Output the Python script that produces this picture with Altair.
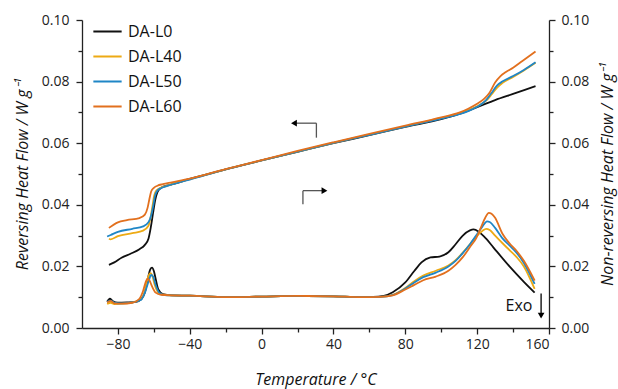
import altair as alt
import pandas as pd

# ---- Reversing heat flow (left axis) ----
rev_L0_T = [-85, -82, -78, -73, -68, -65, -63, -61.7, -60.5, -59.3, -58, -56, -53, -49, -40, -20, 0, 20, 40, 60, 80, 100, 110, 120, 130, 140, 152.5]
rev_L0_y = [0.0205, 0.0213, 0.0228, 0.0241, 0.0256, 0.0270, 0.0290, 0.0327, 0.0371, 0.0414, 0.0441, 0.0455, 0.0462, 0.0468, 0.0484, 0.0515, 0.0544, 0.0572, 0.0600, 0.0626, 0.0653, 0.0678, 0.0695, 0.0717, 0.0740, 0.0760, 0.0785]

rev_L40_T = [-85, -84, -80, -72, -66, -63, -61.8, -60.8, -59.8, -58.5, -56, -52, -45, -40, -20, 0, 20, 40, 60, 80, 100, 110, 115, 120, 125, 128, 131, 134, 140, 146, 152.5]
rev_L40_y = [0.0290, 0.0288, 0.0298, 0.0308, 0.0316, 0.0332, 0.0360, 0.0395, 0.0430, 0.0447, 0.0456, 0.0463, 0.0475, 0.0483, 0.0515, 0.0544, 0.0573, 0.0601, 0.0628, 0.0655, 0.0682, 0.0697, 0.0707, 0.0720, 0.0738, 0.0758, 0.0780, 0.0795, 0.0815, 0.0836, 0.0861]

rev_L50_T = [-86, -84, -80, -72, -66, -63, -61.5, -60.5, -59.3, -58, -56, -52, -45, -40, -20, 0, 20, 40, 60, 80, 100, 110, 115, 120, 125, 128, 131, 134, 140, 146, 152.5]
rev_L50_y = [0.0297, 0.0302, 0.0312, 0.0322, 0.0330, 0.0343, 0.0365, 0.0392, 0.0430, 0.0446, 0.0454, 0.0462, 0.0474, 0.0482, 0.0515, 0.0544, 0.0573, 0.0601, 0.0627, 0.0654, 0.0680, 0.0694, 0.0704, 0.0718, 0.0740, 0.0763, 0.0787, 0.0800, 0.0818, 0.0838, 0.0863]

rev_L60_T = [-85, -80, -75, -68, -65, -63.5, -62.5, -61.5, -60, -58, -55, -50, -40, -20, 0, 20, 40, 60, 80, 100, 110, 115, 120, 124, 127, 130, 133, 136, 140, 145, 152.5]
rev_L60_y = [0.0325, 0.0343, 0.0350, 0.0357, 0.0368, 0.0390, 0.0418, 0.0443, 0.0455, 0.0462, 0.0467, 0.0473, 0.0485, 0.0516, 0.0545, 0.0575, 0.0603, 0.0630, 0.0657, 0.0684, 0.0699, 0.0712, 0.0728, 0.0745, 0.0765, 0.0797, 0.0818, 0.0831, 0.0845, 0.0866, 0.0898]

# ---- Non-reversing heat flow (right axis) ----
nrev_L0_T = [-86, -84.5, -83, -80, -75, -70, -67, -65, -63.5, -62, -61, -60, -59, -57.5, -55, -50, -40, -20, 0, 20, 40, 55, 62, 68, 73, 80, 85, 89, 94, 99, 104, 108, 112, 116, 118, 121, 125, 129, 138, 146, 152]
nrev_L0_y = [0.0085, 0.0095, 0.0088, 0.0082, 0.0083, 0.0085, 0.0094, 0.0115, 0.0155, 0.0190, 0.0196, 0.0185, 0.0160, 0.0125, 0.0110, 0.0106, 0.0105, 0.0100, 0.0102, 0.0104, 0.0103, 0.0101, 0.0101, 0.0104, 0.0116, 0.0148, 0.0185, 0.0213, 0.0229, 0.0232, 0.0246, 0.0272, 0.0300, 0.0317, 0.0320, 0.0312, 0.0290, 0.0262, 0.0200, 0.0150, 0.0115]

nrev_L40_T = [-86, -84, -82, -78, -72, -67, -65, -63.5, -62, -61, -59.5, -57.5, -55, -50, -40, -20, 0, 20, 40, 55, 66, 73, 80, 85, 90, 97, 104, 108, 112, 116, 120, 123, 125, 127, 130, 134, 138, 142, 146, 152]
nrev_L40_y = [0.0078, 0.0082, 0.0078, 0.0079, 0.0083, 0.0094, 0.0120, 0.0160, 0.0178, 0.0172, 0.0140, 0.0115, 0.0108, 0.0106, 0.0105, 0.0100, 0.0102, 0.0104, 0.0103, 0.0100, 0.0101, 0.0108, 0.0130, 0.0152, 0.0170, 0.0186, 0.0203, 0.0220, 0.0245, 0.0272, 0.0300, 0.0316, 0.0322, 0.0318, 0.0300, 0.0276, 0.0253, 0.0230, 0.0200, 0.0127]

nrev_L50_T = [-86, -84, -82, -78, -72, -67, -65, -63, -61.5, -60.5, -59, -57, -54, -50, -40, -20, 0, 20, 40, 55, 66, 73, 80, 85, 90, 97, 104, 108, 112, 116, 120, 123, 125.5, 127, 130, 134, 138, 142, 146, 152]
nrev_L50_y = [0.0085, 0.0089, 0.0082, 0.0080, 0.0083, 0.0092, 0.0115, 0.0150, 0.0172, 0.0168, 0.0140, 0.0115, 0.0107, 0.0106, 0.0105, 0.0100, 0.0102, 0.0104, 0.0103, 0.0100, 0.0101, 0.0107, 0.0128, 0.0148, 0.0165, 0.0180, 0.0200, 0.0218, 0.0243, 0.0272, 0.0305, 0.0330, 0.0346, 0.0344, 0.0325, 0.0292, 0.0268, 0.0244, 0.0211, 0.0143]

nrev_L60_T = [-86, -84, -82, -78, -72, -68, -66, -64.5, -63.5, -62.5, -61, -59, -56, -50, -40, -20, 0, 20, 40, 55, 66, 73, 80, 85, 90, 97, 104, 108, 112, 116, 119.5, 122, 124.5, 126.5, 128, 130, 134, 138, 142, 146, 152]
nrev_L60_y = [0.0083, 0.0088, 0.0080, 0.0079, 0.0082, 0.0095, 0.0120, 0.0150, 0.0160, 0.0155, 0.0135, 0.0115, 0.0108, 0.0106, 0.0105, 0.0100, 0.0102, 0.0104, 0.0103, 0.0100, 0.0101, 0.0106, 0.0125, 0.0140, 0.0155, 0.0167, 0.0186, 0.0205, 0.0230, 0.0263, 0.0292, 0.0325, 0.0358, 0.0374, 0.0371, 0.0358, 0.0307, 0.0275, 0.0250, 0.0218, 0.0154]

samples = ["DA-L0", "DA-L40", "DA-L50", "DA-L60"]
colors = ["#111111", "#EDAA14", "#1F86C6", "#E2701E"]

# ---- Annotations: direction arrows and the Exo marker ----
seg_x1 = [30.5, 30.5, 23.0, 23.0, 155.6]
seg_x2 = [30.5, 19.0, 23.0, 34.0, 155.6]
seg_y1 = [0.0618, 0.0665, 0.0402, 0.0446, 0.0112]
seg_y2 = [0.0665, 0.0665, 0.0446, 0.0446, 0.0048]
seg_col = ["#555555", "#555555", "#555555", "#555555", "#000000"]
head_x = [18.0, 35.0, 155.6]
head_y = [0.0665, 0.0446, 0.0040]
head_shape = ["triangle-left", "triangle-right", "triangle-down"]
exo_x = [143.3]
exo_y = [0.0071]
exo_text = ["Exo"]


def frame(T, y, name):
    return pd.DataFrame({"T": T, "v": y, "sample": name, "order": range(len(T))})


rev = pd.concat([
    frame(rev_L0_T, rev_L0_y, samples[0]),
    frame(rev_L40_T, rev_L40_y, samples[1]),
    frame(rev_L50_T, rev_L50_y, samples[2]),
    frame(rev_L60_T, rev_L60_y, samples[3]),
])
nrev = pd.concat([
    frame(nrev_L0_T, nrev_L0_y, samples[0]),
    frame(nrev_L40_T, nrev_L40_y, samples[1]),
    frame(nrev_L50_T, nrev_L50_y, samples[2]),
    frame(nrev_L60_T, nrev_L60_y, samples[3]),
])
segs = pd.DataFrame({"x1": seg_x1, "x2": seg_x2, "y1": seg_y1, "y2": seg_y2, "c": seg_col})
heads = pd.DataFrame({"x": head_x, "y": head_y, "shape": head_shape})
exo = pd.DataFrame({"x": exo_x, "y": exo_y, "t": exo_text})

FONT = "Open Sans"
xscale = alt.Scale(domain=[-100, 160], nice=False, zero=False)
yscale = alt.Scale(domain=[0, 0.1], nice=False, zero=False)
color = alt.Color("sample:N", scale=alt.Scale(domain=samples, range=colors),
                  legend=alt.Legend(title=None, orient="none", legendX=10, legendY=-1,
                                    symbolType="stroke", symbolSize=800, symbolStrokeWidth=2,
                                    clipHeight=25, rowPadding=0, labelFontSize=16,
                                    labelFont=FONT, labelColor="#111", labelOffset=5))

x_ticks = list(range(-80, 161, 20))
y_ticks = [round(i * 0.01, 2) for i in range(11)]

xaxis = alt.Axis(values=x_ticks, title="Temperature / °C", titleFontStyle="italic",
                 titleFontWeight="normal", titleFontSize=16, titleFont=FONT, titlePadding=20,
                 labelExpr="datum.value % 40 === 0 ? datum.label : ''",
                 tickSize={"condition": {"test": "datum.value % 40 === 0", "value": 6}, "value": 4},
                 labelFontSize=14, labelFont=FONT, labelPadding=3, grid=False,
                 domainColor="#222", tickColor="#222", labelColor="#222", titleColor="#111",
                 domainWidth=1.3, tickWidth=1.3)


def yaxis(orient, title, pad, baseline, lpad):
    return alt.Axis(orient=orient, values=y_ticks, format=".2f", title=title,
                    titleFontStyle="italic", titleFontWeight="normal", titleFontSize=16,
                    titleFont=FONT, titlePadding=pad, titleAngle=270, titleBaseline=baseline,
                    labelExpr="round(datum.value * 100) % 2 === 0 ? datum.label : ''",
                    tickSize={"condition": {"test": "round(datum.value * 100) % 2 === 0", "value": 6}, "value": 4},
                    labelFontSize=14, labelFont=FONT, labelPadding=lpad, grid=False,
                    domainColor="#222", tickColor="#222", labelColor="#222", titleColor="#111",
                    domainWidth=1.3, tickWidth=1.3)


left_axis = yaxis("left", "Reversing Heat Flow / W g⁻¹", 11, "bottom", 7)
right_axis = yaxis("right", "Non-reversing Heat Flow / W g⁻¹", 11, "top", 6)

rev_lines = alt.Chart(rev).mark_line(strokeWidth=1.8, interpolate="monotone").encode(
    x=alt.X("T:Q", scale=xscale, axis=xaxis),
    y=alt.Y("v:Q", scale=yscale, axis=left_axis),
    color=color,
    order="order:Q",
)

seg_layer = alt.Chart(segs).mark_rule(strokeWidth=1.3).encode(
    x=alt.X("x1:Q", scale=xscale, axis=xaxis), x2="x2:Q",
    y=alt.Y("y1:Q", scale=yscale, axis=left_axis), y2="y2:Q",
    color=alt.Color("c:N", scale=None),
)
head_layer = alt.Chart(heads).mark_point(filled=True, size=45, color="#000", opacity=1).encode(
    x=alt.X("x:Q", scale=xscale, axis=xaxis),
    y=alt.Y("y:Q", scale=yscale, axis=left_axis),
    shape=alt.Shape("shape:N", scale=None),
)
exo_layer = alt.Chart(exo).mark_text(fontSize=16, font=FONT, color="#111", align="center",
                                     baseline="middle").encode(
    x=alt.X("x:Q", scale=xscale, axis=xaxis),
    y=alt.Y("y:Q", scale=yscale, axis=left_axis),
    text="t:N",
)

left = alt.layer(rev_lines, seg_layer, head_layer, exo_layer)

right = alt.Chart(nrev).mark_line(strokeWidth=1.8, interpolate="monotone").encode(
    x=alt.X("T:Q", scale=xscale, axis=xaxis),
    y=alt.Y("v:Q", scale=yscale, axis=right_axis),
    color=alt.Color("sample:N", scale=alt.Scale(domain=samples, range=colors), legend=None),
    order="order:Q",
)

chart = alt.layer(left, right).resolve_scale(y="independent").properties(
    width=467, height=308, autosize="none",
    padding={"left": 82, "right": 69, "top": 20, "bottom": 62},
    background="white",
).configure_view(stroke=None)

chart.save("out.html", embed_options={"renderer": "svg", "actions": False})
